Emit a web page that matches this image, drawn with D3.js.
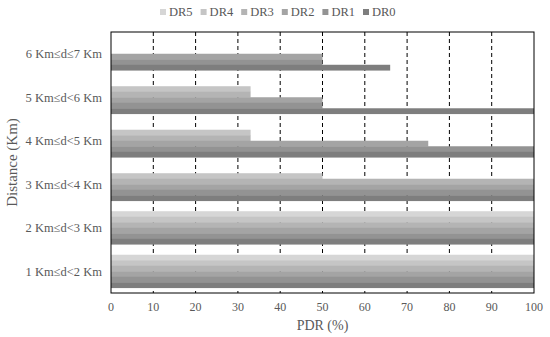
<!DOCTYPE html>
<html>
<head>
<meta charset="utf-8">
<script src="https://cdn.jsdelivr.net/npm/d3@7"></script>
<style>
  body { margin: 0; background: #fff; }
  text { font-family: "Liberation Serif", "Times New Roman", serif; fill: #595959; }
</style>
</head>
<body>
<div id="chart"></div>
<script>
// distance ranges, top to bottom
var categories = ["6 Km\u2264d\u22647 Km", "5 Km\u2264d<6 Km", "4 Km\u2264d<5 Km",
                  "3 Km\u2264d<4 Km", "2 Km\u2264d<3 Km", "1 Km\u2264d<2 Km"];
var seriesNames = ["DR5", "DR4", "DR3", "DR2", "DR1", "DR0"];
// PDR (%) per series, in categories order
var dr5 = [0, 0, 0, 0, 100, 100];
var dr4 = [0, 33, 33, 50, 100, 100];
var dr3 = [0, 33, 33, 100, 100, 100];
var dr2 = [50, 50, 75, 100, 100, 100];
var dr1 = [50, 50, 100, 100, 100, 100];
var dr0 = [66, 100, 100, 100, 100, 100];
var xTicks = [0, 10, 20, 30, 40, 50, 60, 70, 80, 90, 100];

var seriesValues = [dr5, dr4, dr3, dr2, dr1, dr0];
var colors = ["#d6d6d6", "#c5c5c5", "#b4b4b4", "#a4a4a4", "#939393", "#7e7e7e"];

var margin = {top: 32, right: 15, bottom: 44, left: 111},
    width = 534 - margin.left,
    height = 293 - margin.top;

var svg = d3.select("#chart").append("svg")
    .attr("width", 550)
    .attr("height", 337);

var g = svg.append("g")
    .attr("transform", "translate(" + margin.left + "," + margin.top + ")");

var x = d3.scaleLinear().domain([0, 100]).range([0, width]);
var y = d3.scaleBand().domain(categories).range([0, height])
    .paddingInner(0.24).paddingOuter(0.12);
var ySub = d3.scaleBand().domain(seriesNames).range([0, y.bandwidth()]);

/* dashed vertical grid */
g.selectAll("line.grid")
    .data(xTicks.slice(1, -1))
  .enter().append("line")
    .attr("class", "grid")
    .attr("x1", function(d) { return x(d); })
    .attr("x2", function(d) { return x(d); })
    .attr("y1", 0)
    .attr("y2", height)
    .attr("stroke", "#000")
    .attr("stroke-width", 1)
    .attr("stroke-dasharray", "4,3");

/* bars */
seriesNames.forEach(function(name, i) {
  g.append("g").selectAll("rect")
      .data(seriesValues[i])
    .enter().append("rect")
      .attr("x", 0)
      .attr("y", function(d, j) { return y(categories[j]) + ySub(name); })
      .attr("width", function(d) { return x(d); })
      .attr("height", ySub.bandwidth() + 0.3)
      .attr("fill", colors[i]);
});

/* frame */
g.append("rect")
    .attr("width", width)
    .attr("height", height)
    .attr("fill", "none")
    .attr("stroke", "#000")
    .attr("stroke-width", 1);

/* axes labels */
g.selectAll("text.xtick")
    .data(xTicks)
  .enter().append("text")
    .attr("class", "xtick")
    .attr("x", function(d) { return x(d); })
    .attr("y", height + 18)
    .attr("text-anchor", "middle")
    .style("font-size", "12px")
    .text(function(d) { return d; });

g.selectAll("text.ytick")
    .data(categories)
  .enter().append("text")
    .attr("class", "ytick")
    .attr("x", -9)
    .attr("y", function(d) { return y(d) + y.bandwidth() / 2; })
    .attr("dy", "0.35em")
    .attr("text-anchor", "end")
    .style("font-size", "12.5px")
    .text(function(d) { return d; });

svg.append("text")
    .attr("x", margin.left + width / 2)
    .attr("y", 330)
    .attr("text-anchor", "middle")
    .style("font-size", "14px")
    .text("PDR (%)");

svg.append("text")
    .attr("transform", "translate(17," + (margin.top + height / 2) + ") rotate(-90)")
    .attr("text-anchor", "middle")
    .style("font-size", "15px")
    .text("Distance (Km)");

/* legend */
var legend = svg.append("g").selectAll("g")
    .data(seriesNames)
  .enter().append("g")
    .attr("transform", function(d, i) { return "translate(" + (160 + i * 40.6) + ",12)"; });

legend.append("rect")
    .attr("x", 0)
    .attr("y", -3)
    .attr("width", 6)
    .attr("height", 6)
    .attr("fill", function(d, i) { return colors[i]; });

legend.append("text")
    .attr("x", 9)
    .attr("y", 0)
    .attr("dy", "0.35em")
    .style("font-size", "12.5px")
    .text(function(d) { return d; });
</script>
</body>
</html>
